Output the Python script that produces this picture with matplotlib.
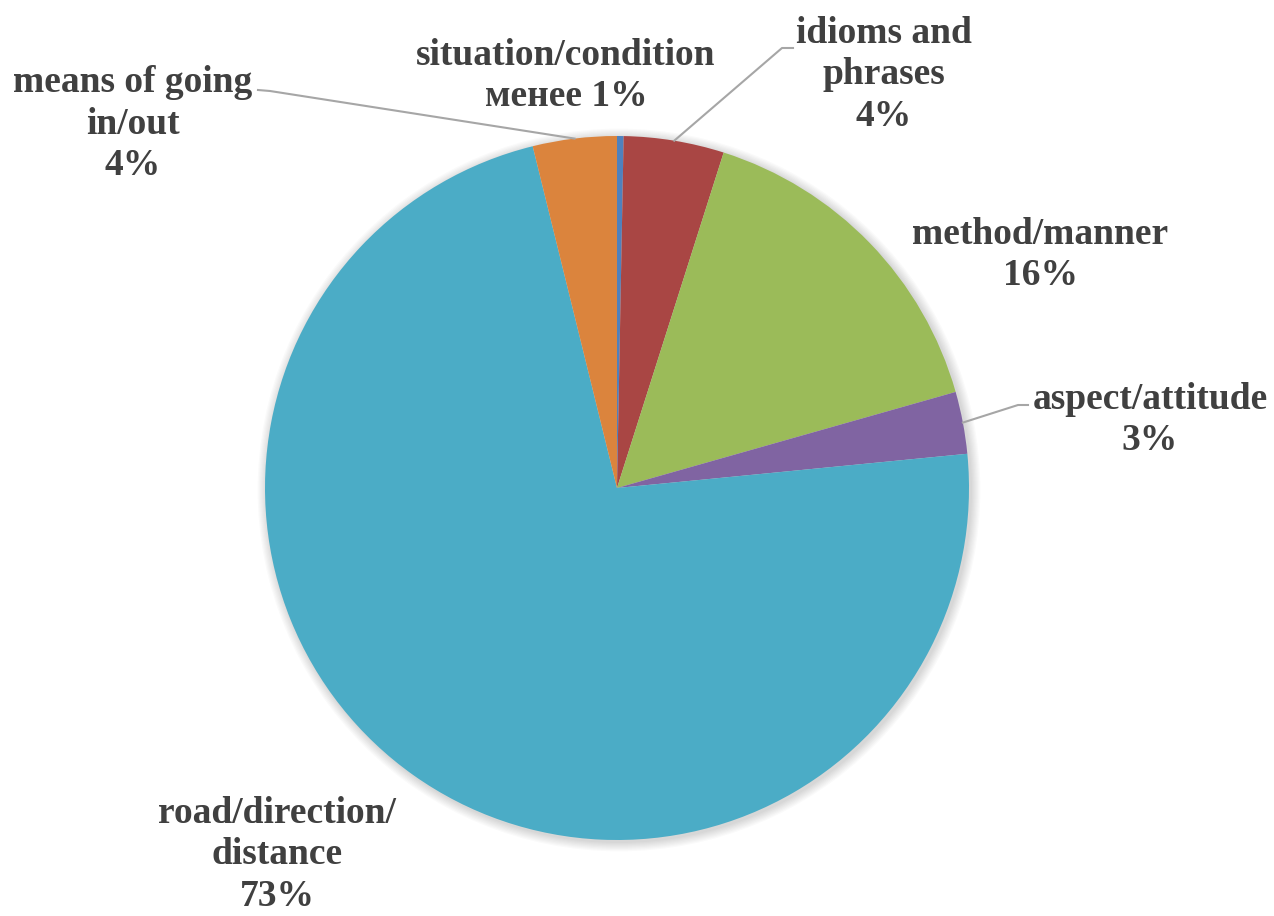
import matplotlib.pyplot as plt
import numpy as np
from matplotlib.patches import Circle

# data (clockwise from 12 o'clock)
categories = ["situation/condition", "idioms and\nphrases", "method/manner",
              "aspect/attitude", "road/direction/\ndistance", "means of going\nin/out"]
shares = [0.3, 4.6, 15.7, 2.85, 72.7, 3.85]
pct_labels = ["менее 1%", "4%", "16%", "3%", "73%", "4%"]
colors = ["#4F81BD", "#A94644", "#9BBB59", "#8064A2", "#4BACC6", "#DB843D"]

# label layout in pixel coords (x, y from top) and optional leader elbow
label_pos = [(566, 76), (884, 75), (1040, 255), (1150, 420), (277, 855), (133, 124)]
elbows = [None, ((782, 48), (793, 48)), None, ((1018, 405), (1028, 405)), None,
          ((270, 91), (258, 90))]

W, H = 1274, 916
cx, cy, r = 617, 488, 352

fig = plt.figure(figsize=(W / 100, H / 100), dpi=100)
ax = fig.add_axes([0, 0, 1, 1])

# soft shadow
for k in range(8):
    ax.add_patch(Circle((cx + 2, H - cy - 2), r + 1 + k * 1.2, color="k",
                        alpha=0.018, lw=0, zorder=0))

wedges, _ = ax.pie(shares, colors=colors, startangle=90, counterclock=False,
                   center=(cx, H - cy), radius=r, frame=True,
                   wedgeprops=dict(linewidth=0, antialiased=True))
ax.set_xlim(0, W)
ax.set_ylim(0, H)
ax.set_aspect("equal")
ax.axis("off")

txt_kw = dict(ha="center", va="center", fontsize=27, fontweight="bold",
              family="Liberation Serif", color="#404040", linespacing=1.25)

for w, cat, pct, (lx, ly), el in zip(wedges, categories, pct_labels, label_pos, elbows):
    ax.text(lx, H - ly, f"{cat}\n{pct}", **txt_kw)
    if el is not None:
        mid = np.deg2rad((w.theta1 + w.theta2) / 2)
        ex, ey = cx + r * np.cos(mid), H - cy + r * np.sin(mid)
        xs = [ex, el[0][0], el[1][0]]
        ys = [ey, H - el[0][1], H - el[1][1]]
        ax.plot(xs, ys, color="#A6A6A6", lw=1.5, zorder=3)

fig.savefig("out.png", dpi=100)
